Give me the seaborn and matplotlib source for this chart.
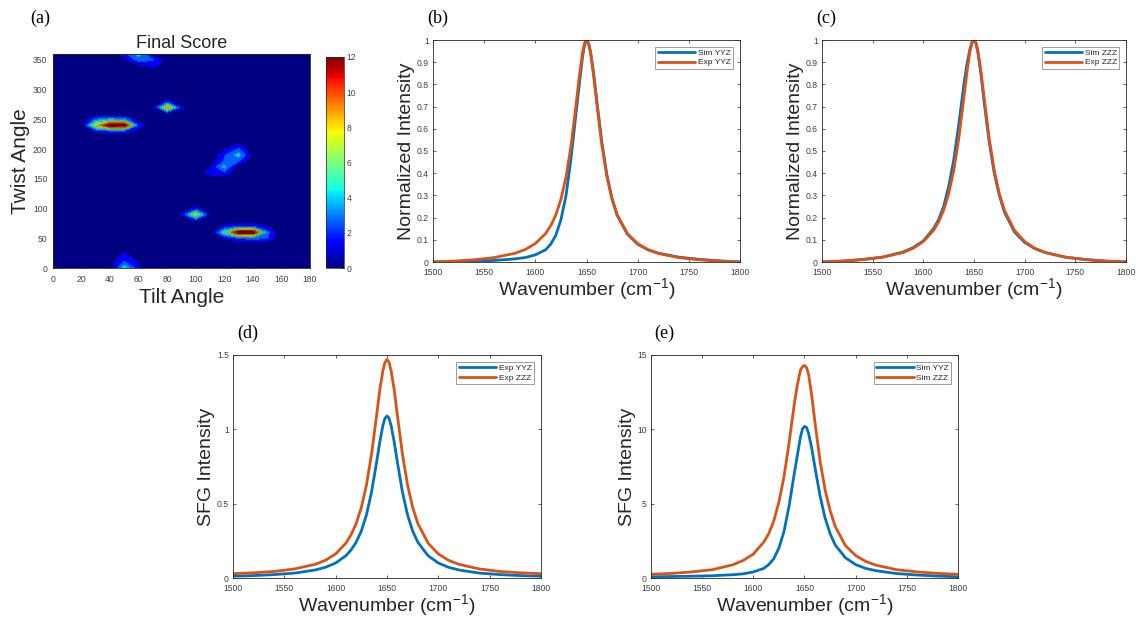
import numpy as np
import pandas as pd
import matplotlib
matplotlib.use("Agg")
import matplotlib.pyplot as plt
import seaborn as sns
from matplotlib.colors import Normalize
from matplotlib.cm import ScalarMappable

sns.set_theme(style="white")
plt.rcParams['font.family'] = ['Liberation Sans', 'DejaVu Sans']

# ---------------- data: panel (a) score map (non-zero cells only) ----------------
tilt_axis = list(range(0, 181, 10))
twist_axis = list(range(0, 361, 10))
cell_tilt = [30, 40, 50, 60, 30, 40, 50, 60, 30, 40, 50, 60,
             80, 90, 80, 80, 70,
             110, 120, 120, 120, 130, 130, 130, 120, 130, 120, 110, 140,
             100, 90, 110, 100, 100,
             120, 130, 140, 150, 120, 130, 140, 150, 120, 130, 140, 150,
             50, 60, 70, 60, 70, 50, 70, 60, 80, 80,
             50, 50, 50, 50, 60, 60, 40]
cell_twist = [240, 240, 240, 240, 250, 250, 250, 250, 230, 230, 230, 230,
              270, 270, 280, 260, 270,
              160, 160, 170, 180, 180, 190, 200, 190, 210, 200, 170, 190,
              90, 90, 90, 100, 80,
              60, 60, 60, 60, 70, 70, 70, 70, 50, 50, 50, 50,
              360, 360, 360, 350, 350, 350, 340, 340, 350, 340,
              0, 10, 20, 30, 0, 10, 10]
cell_score = [7.0, 12.0, 11.8, 2.0, 3.0, 4.0, 3.5, 0.5, 1.5, 2.0, 2.0, 0.8,
              8.0, 1.5, 1.8, 1.0, 0.3,
              2.0, 2.2, 4.0, 2.6, 2.6, 4.2, 2.6, 2.2, 1.0, 1.2, 1.0, 0.6,
              7.0, 1.4, 0.8, 1.8, 1.5,
              5.0, 12.0, 12.0, 3.0, 1.5, 2.5, 2.5, 1.0, 1.3, 2.5, 3.0, 2.5,
              2.0, 4.2, 0.6, 3.0, 2.5, 0.8, 1.6, 0.8, 0.5, 0.6,
              4.5, 2.5, 1.8, 0.9, 1.5, 0.8, 0.5]

# ---------------- data: spectra ----------------
wavenumber = [1500, 1520, 1540, 1560, 1580, 1590, 1600, 1610, 1615, 1620, 1625, 1630,
              1635, 1640, 1643, 1646, 1648, 1650, 1652, 1654, 1657, 1660, 1665, 1670,
              1675, 1680, 1690, 1700, 1710, 1720, 1740, 1760, 1780, 1800]

norm_sim_yyz = [0.0, 0.002, 0.004, 0.007, 0.014, 0.02, 0.032, 0.055, 0.08, 0.12, 0.19, 0.3,
                0.47, 0.68, 0.8, 0.92, 0.975, 1.0, 0.985, 0.945, 0.85, 0.73, 0.54, 0.39,
                0.285, 0.21, 0.125, 0.08, 0.055, 0.04, 0.022, 0.012, 0.005, 0.0]
norm_exp_yyz = [0.0, 0.004, 0.010, 0.020, 0.039, 0.056, 0.083, 0.128, 0.163, 0.212, 0.282, 0.383,
                0.527, 0.716, 0.837, 0.941, 0.985, 1.0, 0.985, 0.941, 0.837, 0.716, 0.527, 0.383,
                0.282, 0.212, 0.128, 0.083, 0.056, 0.039, 0.020, 0.010, 0.004, 0.0]
norm_sim_zzz = [0.0, 0.004, 0.011, 0.022, 0.045, 0.065, 0.095, 0.15, 0.19, 0.25, 0.34, 0.46,
                0.62, 0.8, 0.89, 0.96, 0.99, 1.0, 0.985, 0.94, 0.84, 0.72, 0.54, 0.4,
                0.3, 0.225, 0.135, 0.088, 0.06, 0.043, 0.022, 0.011, 0.004, 0.0]
norm_exp_zzz = [0.0, 0.004, 0.011, 0.022, 0.043, 0.062, 0.092, 0.142, 0.18, 0.233, 0.307, 0.412,
                0.557, 0.74, 0.853, 0.948, 0.986, 1.0, 0.986, 0.948, 0.853, 0.74, 0.557, 0.412,
                0.307, 0.233, 0.142, 0.092, 0.062, 0.043, 0.022, 0.011, 0.004, 0.0]

exp_yyz = [0.012, 0.016, 0.023, 0.033, 0.054, 0.072, 0.101, 0.15, 0.189, 0.241, 0.316, 0.425,
           0.58, 0.784, 0.915, 1.026, 1.074, 1.09, 1.074, 1.026, 0.915, 0.784, 0.58, 0.425,
           0.316, 0.241, 0.15, 0.101, 0.072, 0.054, 0.033, 0.023, 0.016, 0.012]
exp_zzz = [0.029, 0.035, 0.044, 0.061, 0.092, 0.119, 0.162, 0.235, 0.291, 0.367, 0.475, 0.626,
           0.836, 1.10, 1.267, 1.394, 1.45, 1.47, 1.45, 1.394, 1.267, 1.10, 0.836, 0.626,
           0.475, 0.367, 0.235, 0.162, 0.119, 0.092, 0.061, 0.044, 0.035, 0.029]
sim_yyz = [0.08, 0.1, 0.12, 0.15, 0.22, 0.28, 0.41, 0.64, 0.9, 1.3, 2.02, 3.14,
           4.87, 7.02, 8.24, 9.46, 10.03, 10.2, 10.13, 9.72, 8.75, 7.53, 5.59, 4.06,
           2.99, 2.22, 1.36, 0.9, 0.64, 0.49, 0.3, 0.2, 0.13, 0.08]
sim_zzz = [0.25, 0.31, 0.41, 0.56, 0.89, 1.18, 1.61, 2.4, 2.97, 3.83, 5.11, 6.83,
           9.12, 11.69, 12.98, 13.98, 14.2, 14.3, 14.15, 13.7, 12.3, 10.6, 7.97, 5.97,
           4.54, 3.47, 2.18, 1.51, 1.11, 0.86, 0.56, 0.41, 0.31, 0.25]

BLUE = '#0072BD'
ORANGE = '#D95319'
TXT = '#262626'
TICK = '#404040'

W, H = 1136, 626
fig = plt.figure(figsize=(W / 100, H / 100), dpi=100)
fig.patch.set_facecolor('white')


def rect(l, t, r, b):
    return [l / W, 1 - b / H, (r - l) / W, (b - t) / H]


def style_axes(ax):
    for s in ax.spines.values():
        s.set_visible(True)
        s.set_color(TXT)
        s.set_linewidth(0.6)
    ax.tick_params(direction='in', length=2.5, width=0.5, labelsize=6.2, colors=TXT,
                   labelcolor=TICK, top=True, right=True, bottom=True, left=True)
    ax.tick_params(axis='x', pad=4)
    ax.tick_params(axis='y', pad=3)
    ax.set_facecolor('white')


# ---------------- panel (a) ----------------
Z = np.zeros((len(twist_axis), len(tilt_axis)))
for t, w, s in zip(cell_tilt, cell_twist, cell_score):
    Z[twist_axis.index(w), tilt_axis.index(t)] = s

axa = fig.add_axes(rect(53, 54, 310, 268))
levels = np.linspace(0, 12, 11)
jet = plt.get_cmap('jet')
band_colors = [jet(i / 9) for i in range(10)]
axa.contourf(tilt_axis, twist_axis, Z, levels=levels, colors=band_colors)
axa.contour(tilt_axis, twist_axis, Z, levels=levels[1:], colors='k', linewidths=0.3, alpha=0.6)
axa.set_xlim(0, 180)
axa.set_ylim(0, 360)
axa.set_xticks(range(0, 181, 20))
axa.set_yticks(range(0, 351, 50))
style_axes(axa)
axa.tick_params(top=False, right=False)
axa.tick_params(axis='x', pad=5)
axa.tick_params(axis='y', pad=4)
axa.set_title('Final Score', fontsize=13, color=TXT, pad=4)
axa.set_xlabel('Tilt Angle', fontsize=15, color=TXT, labelpad=3)
axa.set_ylabel('Twist Angle', fontsize=15, color=TXT, labelpad=2)

cax = fig.add_axes(rect(326, 57, 344, 268))
sm = ScalarMappable(norm=Normalize(0, 12), cmap='jet')
cb = fig.colorbar(sm, cax=cax, ticks=range(0, 13, 2))
cb.outline.set_linewidth(0.5)
cax.tick_params(labelsize=6.2, colors=TXT, labelcolor=TICK, length=2, width=0.5,
                direction='in', pad=2)

# ---------------- line panels ----------------
def line_panel(box, s1, s2, n1, n2, ylim, yticks, yticklabels, ylabel):
    ax = fig.add_axes(rect(*box))
    df = pd.DataFrame({'wn': wavenumber, 'a': s1, 'b': s2})
    sns.lineplot(data=df, x='wn', y='a', ax=ax, color=BLUE, lw=2.0, label=n1)
    sns.lineplot(data=df, x='wn', y='b', ax=ax, color=ORANGE, lw=2.0, label=n2)
    ax.set_xlim(1500, 1800)
    ax.set_ylim(*ylim)
    ax.set_xticks(range(1500, 1801, 50))
    ax.set_yticks(yticks)
    ax.set_yticklabels(yticklabels)
    style_axes(ax)
    ax.set_xlabel('Wavenumber (cm$^{\\mathregular{-1}}$)', fontsize=14, color=TXT, labelpad=0)
    ax.set_ylabel(ylabel, fontsize=14, color=TXT, labelpad=1)
    leg = ax.legend(loc='upper right', fontsize=6, frameon=True, fancybox=False,
                    handlelength=4.5, borderpad=0.3, labelspacing=0.2, handletextpad=0.3,
                    borderaxespad=0.8)
    leg.get_frame().set_edgecolor('#555555')
    leg.get_frame().set_linewidth(0.5)
    return ax


norm_ticks = [i / 10 for i in range(11)]
norm_labels = ['0', '0.1', '0.2', '0.3', '0.4', '0.5', '0.6', '0.7', '0.8', '0.9', '1']
line_panel((433, 40, 740, 262), norm_sim_yyz, norm_exp_yyz, 'Sim YYZ', 'Exp YYZ',
           (0, 1), norm_ticks, norm_labels, 'Normalized Intensity')
line_panel((822, 40, 1126, 262), norm_sim_zzz, norm_exp_zzz, 'Sim ZZZ', 'Exp ZZZ',
           (0, 1), norm_ticks, norm_labels, 'Normalized Intensity')
line_panel((233, 355, 541, 578), exp_yyz, exp_zzz, 'Exp YYZ', 'Exp ZZZ',
           (0, 1.5), [0, 0.5, 1, 1.5], ['0', '0.5', '1', '1.5'], 'SFG Intensity')
line_panel((651, 355, 958, 578), sim_yyz, sim_zzz, 'Sim YYZ', 'Sim ZZZ',
           (0, 15), [0, 5, 10, 15], ['0', '5', '10', '15'], 'SFG Intensity')

# panel letters
for txt, x, y in [('(a)', 40, 18), ('(b)', 438, 18), ('(c)', 826, 18),
                  ('(d)', 248, 333), ('(e)', 664, 333)]:
    fig.text(x / W, 1 - y / H, txt, fontsize=13, family='Liberation Serif',
             ha='center', va='center', color='black')

fig.savefig('out.png', dpi=100)
